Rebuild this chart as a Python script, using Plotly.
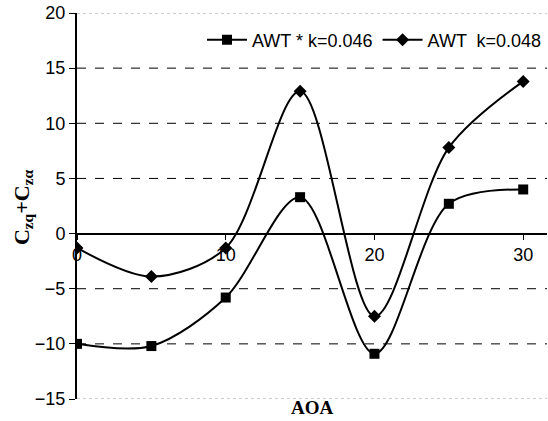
import plotly.graph_objects as go

aoa = [0, 5, 10, 15, 20, 25, 30]
awt_046 = [-10.0, -10.2, -5.8, 3.3, -10.9, 2.7, 4.0]
awt_048 = [-1.3, -3.9, -1.3, 12.9, -7.5, 7.8, 13.8]
y_ticks = [-15, -10, -5, 0, 5, 10, 15, 20]
x_ticks = [0, 10, 20, 30]

Y_MIN, Y_MAX = -15, 20
X_MIN, X_MAX = 0, 31.6

fig = go.Figure()
fig.add_trace(go.Scatter(
    x=aoa, y=awt_046, name="AWT * k=0.046", mode="lines+markers",
    line=dict(color="black", width=2, shape="spline", smoothing=0.9),
    marker=dict(symbol="square", size=10, color="black")))
fig.add_trace(go.Scatter(
    x=aoa, y=awt_048, name="AWT  k=0.048", mode="lines+markers",
    line=dict(color="black", width=2, shape="spline", smoothing=0.9),
    marker=dict(symbol="diamond", size=10, color="black")))

font = "Liberation Sans, Arial, sans-serif"
fig.update_layout(
    width=548, height=421,
    margin=dict(l=77, r=1, t=13, b=22),
    paper_bgcolor="white", plot_bgcolor="white",
    showlegend=True,
    legend=dict(orientation="h", x=1.0, xanchor="right", y=0.93, yanchor="middle",
                font=dict(family=font, size=18, color="black"),
                bgcolor="rgba(255,255,255,0)", itemwidth=40, tracegroupgap=0),
    xaxis=dict(range=[X_MIN, X_MAX], tickvals=x_ticks, anchor="free",
               position=(0 - Y_MIN) / (Y_MAX - Y_MIN),
               showline=True, linecolor="black", linewidth=2,
               ticks="outside", ticklen=5, tickcolor="black", tickwidth=1,
               showgrid=False, zeroline=False,
               tickfont=dict(family=font, size=18, color="black")),
    yaxis=dict(range=[Y_MIN, Y_MAX], tickvals=y_ticks,
               showline=True, linecolor="black", linewidth=2,
               ticks="outside", ticklen=6, tickcolor="black", tickwidth=1,
               showgrid=False, zeroline=False,
               tickfont=dict(family=font, size=18, color="black")),
)

# dashed grid lines at inner ticks, dotted border lines at top and bottom
for yv in y_ticks:
    if yv in (Y_MIN, Y_MAX):
        ln = dict(color="#999999", width=1, dash="dot")
    elif yv == 0:
        continue
    else:
        ln = dict(color="black", width=1, dash="dash")
    fig.add_shape(type="line", xref="paper", yref="y", x0=0, x1=1, y0=yv, y1=yv,
                  line=ln, layer="below")

fig.add_annotation(text="<b>AOA</b>", xref="paper", yref="paper", x=0.5, y=-0.023,
                   yanchor="middle", showarrow=False,
                   font=dict(family="Liberation Serif, Times New Roman, serif", size=19, color="black"))
fig.add_annotation(text="<b>C<sub>zq</sub>+C<sub>z\u03b1</sub></b>", xref="paper", yref="paper",
                   x=-0.115, y=0.497, textangle=-90, showarrow=False,
                   xanchor="center", yanchor="middle",
                   font=dict(family="Liberation Serif, Times New Roman, serif", size=22, color="black"))

fig.write_html("out.html")
